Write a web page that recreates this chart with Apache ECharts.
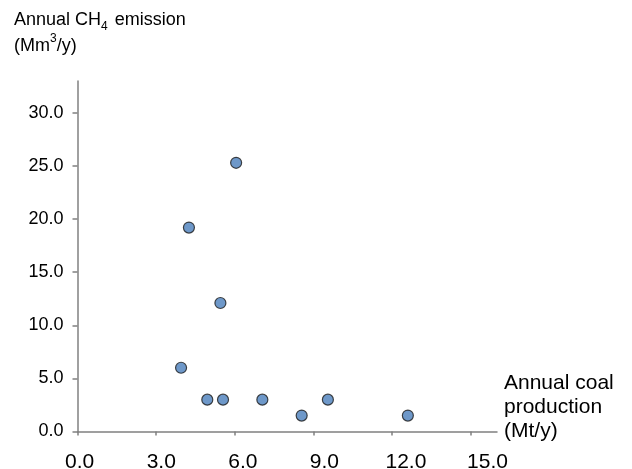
<!DOCTYPE html>
<html>
<head>
<meta charset="utf-8">
<script src="https://cdn.jsdelivr.net/npm/echarts@6/dist/echarts.min.js"></script>
<style>
html,body{margin:0;padding:0;background:#fff;}
#chart{width:632px;height:469px;}
</style>
</head>
<body>
<div id="chart"></div>
<script>
// Data
var coalProduction = [3.95, 4.25, 4.95, 5.45, 5.55, 6.05, 7.05, 8.55, 9.55, 12.6];
var ch4Emission    = [6.0, 19.2, 3.0, 12.1, 3.0, 25.3, 3.0, 1.5, 3.0, 1.5];
var xTicks = [0, 3, 6, 9, 12, 15];
var yTicks = [0, 5, 10, 15, 20, 25, 30];

var points = coalProduction.map(function (x, i) { return [x, ch4Emission[i]]; });

var FONT = '"Liberation Sans", Arial, Helvetica, sans-serif';
var axisColor = '#808080';
var fmt = function (v) { return Number(v).toFixed(1); };

var chart = echarts.init(document.getElementById('chart'), null, {renderer: 'canvas'});
chart.setOption({
  animation: false,
  backgroundColor: '#ffffff',
  grid: {left: 77.5, right: 135, top: 81, bottom: 37.5, containLabel: false, outerBoundsMode: 'none'},
  xAxis: [{
    type: 'value', min: 0, max: 16,
    axisLine: {show: true, onZero: false, lineStyle: {color: axisColor, width: 1.5}},
    axisTick: {show: true, length: 4, customValues: xTicks, lineStyle: {color: axisColor, width: 1.5}},
    axisLabel: {show: false},
    splitLine: {show: false}
  }, {
    // label-only axis: the reference's tick labels are spread slightly wider than its ticks
    type: 'value', min: -0.08, max: 15.35, position: 'bottom',
    axisLine: {show: false}, axisTick: {show: false}, splitLine: {show: false},
    axisLabel: {customValues: xTicks, margin: 20, fontSize: 21, color: '#000', fontFamily: FONT, formatter: fmt}
  }],
  yAxis: {
    type: 'value', min: 0, max: 33,
    axisLine: {show: true, onZero: false, lineStyle: {color: axisColor, width: 1.5}},
    axisTick: {show: true, length: 5, customValues: yTicks, lineStyle: {color: axisColor, width: 1.5}},
    axisLabel: {customValues: yTicks, margin: 14, fontSize: 18, color: '#000', fontFamily: FONT, formatter: fmt},
    splitLine: {show: false}
  },
  graphic: [
    {
      type: 'text', left: 14, top: 11,
      style: {
        text: '{a|Annual CH}{s|4}{a| emission}\n{a|(Mm}{p|3}{a|/y)}',
        fill: '#000',
        rich: {
          a: {fontSize: 18, fontFamily: FONT, color: '#000', lineHeight: 26},
          s: {fontSize: 12, fontFamily: FONT, color: '#000', lineHeight: 26, verticalAlign: 'bottom', padding: [0, 2, 0, 0]},
          p: {fontSize: 12, fontFamily: FONT, color: '#000', lineHeight: 26, verticalAlign: 'top'}
        }
      }
    },
    {
      type: 'text', left: 504, top: 371,
      style: {
        text: 'Annual coal\nproduction\n(Mt/y)',
        fill: '#000',
        font: '21px ' + FONT,
        lineHeight: 24
      }
    }
  ],
  series: [{
    type: 'scatter',
    xAxisIndex: 0,
    data: points,
    symbol: 'circle',
    symbolSize: 11,
    itemStyle: {color: '#4A7EBB', borderColor: '#1a1a1a', borderWidth: 1.2}
  }]
});
</script>
</body>
</html>
